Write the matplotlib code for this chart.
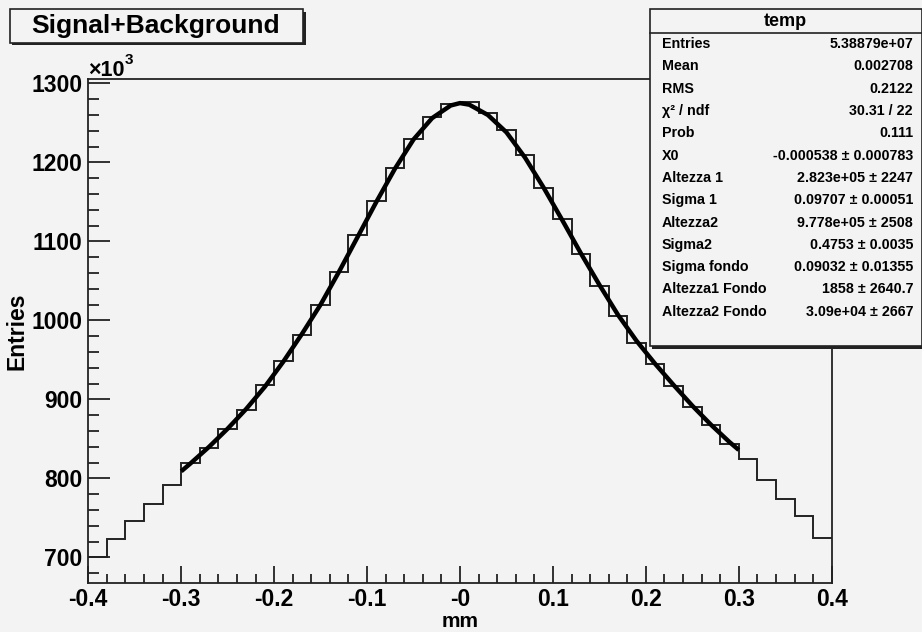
import numpy as np
import matplotlib
matplotlib.use('Agg')
import matplotlib.pyplot as plt
from matplotlib.patches import Rectangle
from matplotlib.ticker import MultipleLocator

plt.rcParams['font.family'] = ['Liberation Sans', 'DejaVu Sans']
plt.rcParams['font.weight'] = 'bold'
plt.rcParams['axes.labelweight'] = 'bold'

# histogram "temp", 40 bins over [-0.4, 0.4] mm, entries in units of 10^3
x_lo, x_hi, n_bins = -0.4, 0.4, 40
entries_k = [700, 723, 746, 768, 792, 819, 839, 862, 887, 918,
             948, 982, 1019, 1061, 1108, 1151, 1193, 1230, 1257, 1274,
             1276, 1263, 1241, 1209, 1168, 1128, 1084, 1044, 1006, 972,
             945, 917, 891, 868, 844, 824, 798, 774, 752, 725]

# fit curve (x in mm, y in 10^3)
fit_x = [-0.30, -0.29, -0.27, -0.25, -0.23, -0.21, -0.19, -0.17, -0.15, -0.13,
         -0.11, -0.09, -0.07, -0.05, -0.03, -0.01, 0.0, 0.01, 0.03, 0.05,
         0.07, 0.09, 0.11, 0.13, 0.15, 0.17, 0.19, 0.21, 0.23, 0.25,
         0.27, 0.29, 0.30]
fit_y = [809, 819, 840, 863, 888, 916, 948, 983, 1020, 1062,
         1106, 1150, 1192, 1229, 1256, 1272, 1275, 1273, 1260, 1238,
         1206, 1168, 1127, 1085, 1045, 1007, 974, 945, 918, 892,
         868, 846, 836]

xtick_vals = [-0.4, -0.3, -0.2, -0.1, 0.0, 0.1, 0.2, 0.3, 0.4]
xtick_labels = ['-0.4', '-0.3', '-0.2', '-0.1', '-0', '0.1', '0.2', '0.3', '0.4']

stats_title = 'temp'
stats_names = ['Entries', 'Mean', 'RMS', 'χ² / ndf', 'Prob', 'X0',
               'Altezza 1', 'Sigma 1', 'Altezza2', 'Sigma2', 'Sigma fondo',
               'Altezza1 Fondo', 'Altezza2 Fondo']
stats_values = ['5.38879e+07', '0.002708', '0.2122', '30.31 / 22', '0.111',
                '-0.000538 ± 0.000783', '2.823e+05 ± 2247', '0.09707 ± 0.00051',
                '9.778e+05 ± 2508', '0.4753 ± 0.0035', '0.09032 ± 0.01355',
                '1858 ± 2640.7', '3.09e+04 ± 2667']

bg = '#f3f3f3'
W, H = 922, 632

fig = plt.figure(figsize=(W / 100, H / 100), dpi=100, facecolor=bg)


def fx(px):
    return px / W


def fy(py):
    return 1 - py / H


ax = fig.add_axes([fx(88.3), fy(582.7), fx(831.7) - fx(88.3), fy(79) - fy(582.7)])
ax.set_facecolor(bg)

edges = np.linspace(x_lo, x_hi, n_bins + 1)
ax.stairs(entries_k, edges, baseline=None, color='#222222', lw=1.4)
ax.plot(fit_x, fit_y, color='black', lw=3.2, solid_capstyle='butt', solid_joinstyle='round')

ax.set_xlim(x_lo, x_hi)
ax.set_ylim(668, 1305.5)
ax.set_xticks(xtick_vals)
ax.set_xticklabels(xtick_labels)
ax.xaxis.set_minor_locator(MultipleLocator(0.02))
ax.yaxis.set_major_locator(MultipleLocator(100))
ax.yaxis.set_minor_locator(MultipleLocator(20))
ax.tick_params(which='both', direction='in', top=False, right=False,
               labelsize=16.5, color='#222222', width=1.3)
ax.tick_params(axis='x', which='major', length=12, pad=3.5)
ax.tick_params(axis='x', which='minor', length=6.3)
ax.tick_params(axis='y', which='major', length=15.5, pad=4)
ax.tick_params(axis='y', which='minor', length=8)
for s in ax.spines.values():
    s.set_color('#222222')
    s.set_linewidth(1.3)

ax.set_ylabel('Entries', fontsize=16.5, fontweight='bold')
ax.yaxis.set_label_coords(-0.08, 0.5)
fig.text(fx(460), fy(627), 'mm', fontsize=15, ha='center', va='baseline')

fig.text(fx(88), fy(76), '×10', fontsize=15.5, va='baseline', ha='left')
fig.text(fx(125), fy(64), '3', fontsize=11, va='baseline', ha='left')

# title box with shadow
fig.add_artist(Rectangle((fx(12), fy(45)), fx(294), fy(12) - fy(45), transform=fig.transFigure,
                         facecolor='#222222', edgecolor='none'))
fig.add_artist(Rectangle((fx(9.5), fy(42.5)), fx(293), fy(9.5) - fy(42.5), transform=fig.transFigure,
                         facecolor=bg, edgecolor='#222222', lw=1.2))
fig.text(fx(156), fy(26.5), 'Signal+Background', fontsize=19, ha='center', va='center')

# stats box with shadow
fig.add_artist(Rectangle((fx(652), fy(348.5)), fx(275), fy(12) - fy(348.5), transform=fig.transFigure,
                         facecolor='#222222', edgecolor='none'))
fig.add_artist(Rectangle((fx(649.5), fy(345.5)), fx(272), fy(9.5) - fy(345.5), transform=fig.transFigure,
                         facecolor=bg, edgecolor='#222222', lw=1.2))
fig.add_artist(plt.Line2D([fx(649.5), fx(921.5)], [fy(33), fy(33)], transform=fig.transFigure,
                          color='#222222', lw=1.2))
fig.text(fx(785), fy(21), stats_title, fontsize=13, ha='center', va='center')
row_h = 22.3
for i, (name, val) in enumerate(zip(stats_names, stats_values)):
    yc = 33 + row_h * (i + 0.5)
    fig.text(fx(662), fy(yc), name, fontsize=10.3, ha='left', va='center')
    fig.text(fx(913), fy(yc), val, fontsize=10.3, ha='right', va='center')

fig.savefig('out.png', dpi=100, facecolor=bg)
